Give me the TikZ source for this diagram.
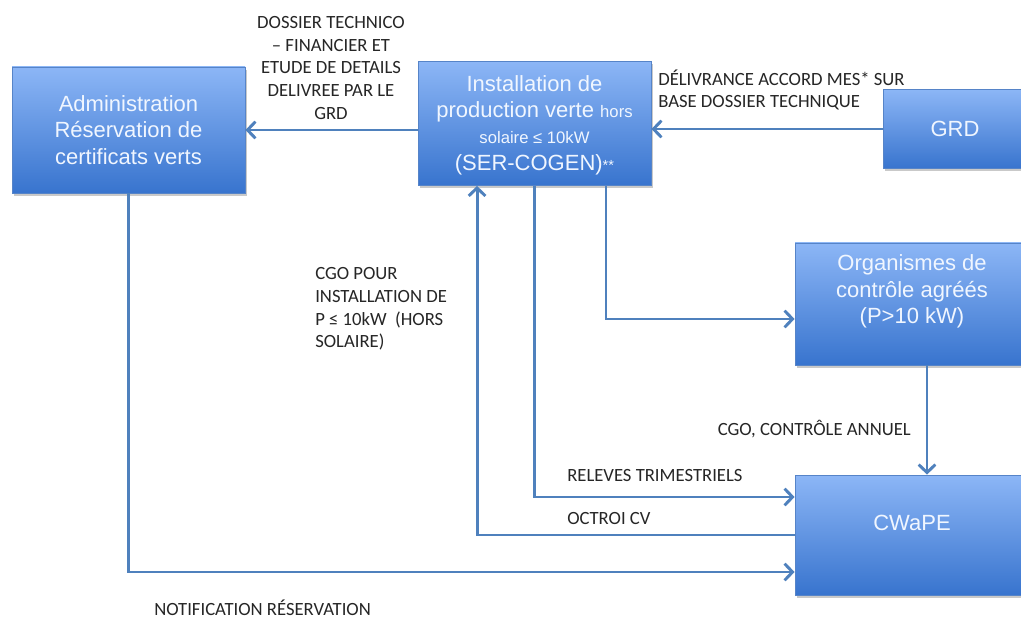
\documentclass[tikz,border=0pt]{standalone}
\usepackage{fontspec}
\usetikzlibrary{arrows.meta,shadows}
\newfontfamily\labfont{Carlito}
\newfontfamily\boxfont{Liberation Sans}
\definecolor{boxtop}{RGB}{140,182,246}
\definecolor{boxbot}{RGB}{56,116,206}
\definecolor{boxedge}{RGB}{86,132,200}
\definecolor{arrowc}{RGB}{79,129,189}
\definecolor{labc}{RGB}{38,38,38}
\definecolor{boxtxt}{RGB}{240,246,255}
\tikzset{
  bluebox/.style={rectangle, draw=boxedge, line width=0.6pt, top color=boxtop, bottom color=boxbot,
    drop shadow={shadow xshift=1.5pt, shadow yshift=-2pt, opacity=0.35, fill=black!60},
    inner sep=0pt, text=boxtxt, font=\boxfont\fontsize{16.5}{19.8}\selectfont, align=center},
  boxtext/.style={text=boxtxt, font=\boxfont\fontsize{16.5}{19.8}\selectfont, align=center, inner sep=0pt},
  lab/.style={text=labc, font=\labfont\fontsize{14}{17}\selectfont, inner sep=0pt},
  arr/.style={draw=arrowc, line width=2.2pt, -{Straight Barb[length=6pt,width=12.5pt]}}
}
\begin{document}
\begin{tikzpicture}[x=0.75pt,y=-0.75pt]
\useasboundingbox (0,0) rectangle (1021,620);
\clip (0,0) rectangle (1021,620);
\fill[white] (0,0) rectangle (1021,620);

% boxes
\node[bluebox, minimum width=174.75pt, minimum height=94.5pt] (admin) at (128.5,130)
  {Administration\\Réservation de\\certificats verts};
\node[bluebox, minimum width=174.75pt, minimum height=93pt] (inst) at (534.5,123.5) {};
\node[boxtext] (insttxt) at (534.5,125)
  {Installation de\\production verte {\fontsize{12.5}{15}\selectfont hors}\\
   {\fontsize{12.5}{15}\selectfont solaire ≤ 10kW}\\(SER-COGEN){\fontsize{11}{13}\selectfont **}};
\node[bluebox, minimum width=108pt, minimum height=59.25pt] (grd) at (955,129) {GRD};
\node[bluebox, minimum width=175.5pt, minimum height=91.5pt] (org) at (912,304) {};
\node[boxtext] (orgtxt) at (912,291.5) {Organismes de\\contrôle agréés\\(P>10 kW)};
\node[bluebox, minimum width=175.5pt, minimum height=90pt] (cwape) at (912,535) {};
\node[boxtext] (cwtxt) at (912,523) {CWaPE};

% connectors
\draw[arr] (inst.west |- admin.east) -- (admin.east);
\draw[arr] (grd.west) -- (grd.west -| inst.east);
\draw[arr] (admin.south) |- ([yshift=-27.75pt]cwape.west);
\draw[arr] (cwape.west) -| ([xshift=-43.1pt]inst.south);
\draw[arr] (inst.south) |- ([yshift=28.5pt]cwape.west);
\draw[arr] ([xshift=53.6pt]inst.south) |- ([yshift=-11.25pt]org.west);
\draw[arr] ([xshift=11.25pt]org.south) -- ([xshift=11.25pt]cwape.north);

% labels
\node[lab, align=center] (l1) at (331,68)
  {DOSSIER TECHNICO\\– FINANCIER ET\\ETUDE DE DETAILS\\DELIVREE PAR LE\\GRD};
\node[lab, align=left, anchor=west] (l2) at (658,90)
  {DÉLIVRANCE ACCORD MES* SUR\\BASE DOSSIER TECHNIQUE};
\node[lab, align=left, anchor=west] (l3) at (315,309)
  {CGO POUR\\INSTALLATION DE\\P ≤ 10kW\ \ (HORS\\SOLAIRE)};
\node[lab, anchor=east] (l4) at (911,429) {CGO, CONTRÔLE ANNUEL};
\node[lab, anchor=west] (l5) at (567,476) {RELEVES TRIMESTRIELS};
\node[lab, anchor=west] (l6) at (567,519) {OCTROI CV};
\node[lab, anchor=west] (l7) at (154,608) {NOTIFICATION RÉSERVATION};
\end{tikzpicture}
\end{document}
